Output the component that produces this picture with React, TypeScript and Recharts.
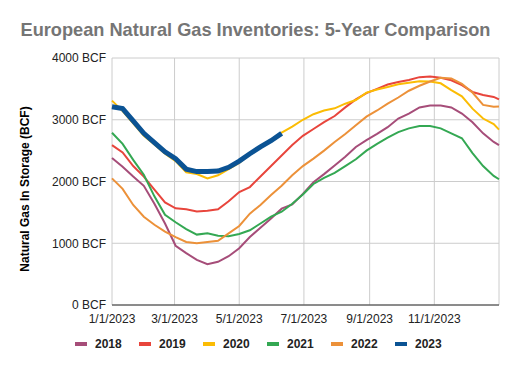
import { LineChart, Line, XAxis, YAxis, CartesianGrid } from "recharts";

const days = [
  0, 10, 20, 30, 40, 50, 60, 70, 80, 90, 100, 110, 120, 130, 140, 150, 160, 170, 180,
  190, 200, 210, 220, 230, 240, 250, 260, 270, 280, 290, 300, 310, 320, 330, 340, 350, 360, 365,
];

const y2018 = [
  2380, 2240, 2080, 1930, 1640, 1320, 960, 840, 730, 660, 700, 790, 920, 1100, 1250, 1400, 1560, 1630, 1800,
  1990, 2120, 2260, 2400, 2560, 2670, 2770, 2880, 3020, 3100, 3200, 3230, 3230, 3200, 3100, 2960, 2780, 2640, 2590,
];
const y2019 = [
  2590, 2470, 2250, 2080, 1870, 1660, 1565, 1550, 1515, 1525, 1550, 1680, 1830, 1910, 2080, 2250, 2420, 2590, 2740,
  2850, 2960, 3060, 3200, 3330, 3430, 3500, 3570, 3610, 3645, 3690, 3700, 3680, 3640, 3560, 3450, 3400, 3370, 3330,
];
const y2020 = [
  3310, 3140, 2940, 2740, 2600, 2450, 2330, 2150, 2120, 2050, 2100, 2200, 2300, 2440, 2570, 2680, 2790, 2890, 3000,
  3090, 3150, 3185, 3260, 3320, 3440, 3490, 3530, 3575, 3600, 3625, 3620, 3590, 3480, 3380, 3180, 3020, 2930, 2840,
];
const y2021 = [
  2790, 2610, 2350, 2110, 1760, 1460, 1340, 1230, 1140, 1160, 1120, 1115, 1150, 1210, 1320, 1430, 1510, 1640, 1790,
  1960, 2060, 2140, 2250, 2360, 2500, 2610, 2710, 2800, 2860, 2900, 2900, 2860, 2780, 2700, 2460, 2250, 2090, 2036,
];
const y2022 = [
  2050, 1880, 1620, 1430, 1300, 1190, 1100, 1020, 1000, 1020, 1040, 1160, 1280, 1480, 1620, 1780, 1930, 2100, 2250,
  2370, 2500, 2640, 2770, 2910, 3050, 3150, 3260, 3360, 3470, 3550, 3620, 3680, 3670, 3580, 3440, 3240, 3210, 3213,
];
const y2023 = [
  3210, 3180, 2980, 2780, 2630, 2480, 2370, 2200, 2160, 2160, 2170, 2230, 2330, 2450, 2560, 2660, 2780,
];

const xTicks = [0, 59, 120, 181, 243, 304];
const xTickLabels = ["1/1/2023", "3/1/2023", "5/1/2023", "7/1/2023", "9/1/2023", "11/1/2023"];
const yTicks = [0, 1000, 2000, 3000, 4000];

const series = [
  { key: "2018", values: y2018, color: "#a64d79", width: 2 },
  { key: "2019", values: y2019, color: "#e8453c", width: 2 },
  { key: "2020", values: y2020, color: "#fbbc04", width: 2 },
  { key: "2021", values: y2021, color: "#34a853", width: 2 },
  { key: "2022", values: y2022, color: "#ec9139", width: 2 },
  { key: "2023", values: y2023, color: "#0b5394", width: 5 },
];

const data = days.map((day, i) => {
  const row: Record<string, number | null> = { day };
  series.forEach((s) => {
    row[s.key] = i < s.values.length ? s.values[i] : null;
  });
  return row;
});

const font = "Arial, 'Liberation Sans', sans-serif";

export default function App() {
  return (
    <div style={{ position: "absolute", left: 0, top: 0, width: 518, height: 371, background: "#fff", fontFamily: font }}>
      <div
        style={{
          position: "absolute", left: 0, top: 20, width: 511, textAlign: "center",
          fontSize: 18.2, lineHeight: "20px", fontWeight: "bold", color: "#757575",
        }}
      >
        European Natural Gas Inventories: 5-Year Comparison
      </div>
      <div style={{ position: "absolute", left: 25, top: 189, width: 0, height: 0 }}>
        <div
          style={{
            position: "absolute", left: -110, top: -8, width: 220, textAlign: "center",
            transform: "rotate(-90deg)", fontSize: 12, lineHeight: "16px", fontWeight: "bold", color: "#000",
          }}
        >
          Natural Gas In Storage (BCF)
        </div>
      </div>
      <LineChart
        width={518}
        height={371}
        data={data}
        margin={{ top: 58, right: 19, bottom: 36, left: 0 }}
        style={{ position: "absolute", left: 0, top: 0 }}
      >
        <CartesianGrid stroke="#cccccc" />
        <XAxis
          dataKey="day"
          type="number"
          domain={[0, 365]}
          ticks={xTicks}
          tickFormatter={(v) => xTickLabels[xTicks.indexOf(v)] ?? ""}
          tickLine={false}
          tickSize={4}
          tickMargin={5}
          height={30}
          axisLine={{ stroke: "#333333" }}
          tick={{ fill: "#222", fontSize: 12, fontFamily: font }}
          interval={0}
        />
        <YAxis
          width={112}
          domain={[0, 4000]}
          ticks={yTicks}
          tickFormatter={(v) => `${v} BCF`}
          tickLine={false}
          tickSize={4}
          axisLine={false}
          tick={{ fill: "#222", fontSize: 12, fontFamily: font }}
        />
        {series.map((s) => (
          <Line
            key={s.key}
            dataKey={s.key}
            stroke={s.color}
            strokeWidth={s.width}
            dot={false}
            type="linear"
            isAnimationActive={false}
          />
        ))}
      </LineChart>
      <div style={{ position: "absolute", left: 75, top: 336, display: "flex", height: 16, alignItems: "center" }}>
        {series.map((s) => (
          <div key={s.key} style={{ width: 64, display: "flex", alignItems: "center" }}>
            <div style={{ width: 12, height: 4, background: s.color, marginRight: 8 }} />
            <span style={{ fontSize: 12, fontWeight: "bold", color: "#222" }}>{s.key}</span>
          </div>
        ))}
      </div>
    </div>
  );
}
